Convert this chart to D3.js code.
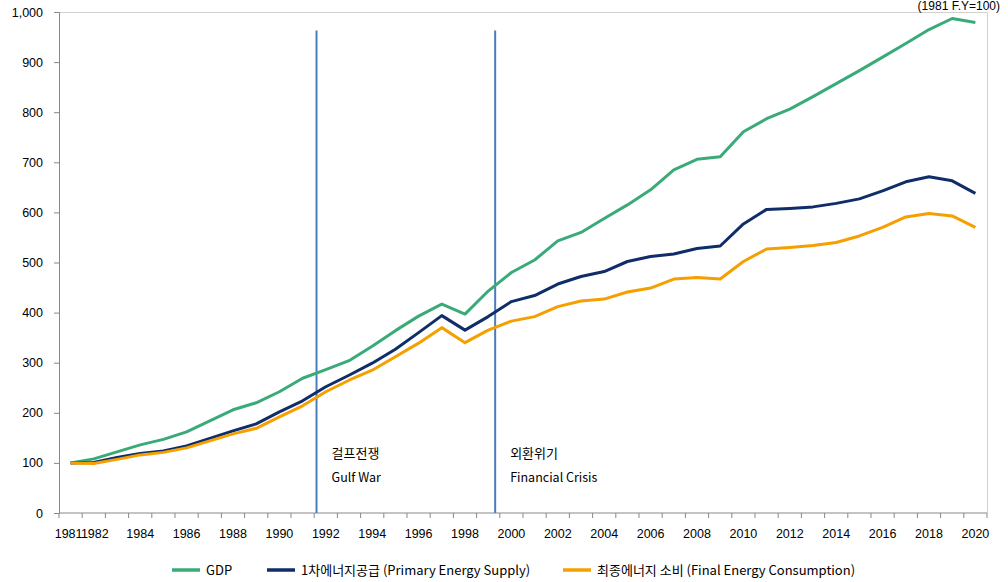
<!DOCTYPE html>
<html>
<head>
<meta charset="utf-8">
<script src="https://cdn.jsdelivr.net/npm/d3@7"></script>
<style>
  body { margin: 0; background: #fff; }
  text { font-family: "Liberation Sans", Arial, sans-serif; fill: #000; }
  .ko { font-family: "Noto Sans CJK KR", "Noto Sans", sans-serif; }
</style>
</head>
<body>
<script>
// data (1981 = 100)
var years = d3.range(1981, 2021);
var gdp = [100, 108, 122, 136, 147, 162, 184, 206, 220, 242,
    269, 286, 304, 333, 364, 393, 417, 397, 443, 480,
    505, 543, 560, 588, 615, 645, 685, 706, 711, 761,
    787, 806, 831, 857, 883, 910, 937, 965, 987, 979];
var primary = [100, 101, 111, 119, 124, 134, 149, 164, 178, 202,
    224, 252, 275, 299, 327, 360, 394, 365, 392, 422,
    434, 457, 472, 482, 502, 512, 517, 528, 533, 577,
    606, 608, 611, 618, 627, 643, 661, 671, 663, 638];
var finalCons = [100, 99, 107, 116, 121, 130, 144, 158, 169, 192,
    214, 242, 265, 285, 312, 339, 370, 340, 365, 383,
    392, 412, 423, 427, 441, 449, 467, 470, 467, 502,
    527, 530, 534, 540, 553, 570, 591, 598, 593, 570];
var tickYears = [1981, 1982, 1984, 1986, 1988, 1990, 1992, 1994, 1996, 1998,
    2000, 2002, 2004, 2006, 2008, 2010, 2012, 2014, 2016, 2018, 2020];
var yTicks = [0, 100, 200, 300, 400, 500, 600, 700, 800, 900, 1000];

var seriesNames = ["GDP", "1차에너지공급 (Primary Energy Supply)", "최종에너지 소비 (Final Energy Consumption)"];
var seriesColors = ["#3aab78", "#0f2d69", "#f5a000"];
var seriesValues = [gdp, primary, finalCons];

var eventYears = [1991.6, 1999.3];
var eventKo = ["걸프전쟁", "외환위기"];
var eventEn = ["Gulf War", "Financial Crisis"];

var W = 1008, H = 582;
var margin = { top: 12, right: 21, bottom: 69, left: 59 },
    width = W - margin.left - margin.right,
    height = H - margin.top - margin.bottom;

var svg = d3.select("body").append("svg")
    .attr("width", W)
    .attr("height", H);

var x = d3.scaleBand()
    .domain(years)
    .range([0, width])
    .padding(0);

var xc = function (yr) { return x(yr) + x.bandwidth() / 2; };

// fractional year -> x, for the event lines
var xLin = d3.scaleLinear()
    .domain([years[0], years[years.length - 1]])
    .range([xc(years[0]), xc(years[years.length - 1])]);

var y = d3.scaleLinear()
    .domain([0, 1000])
    .range([height, 0]);

var g = svg.append("g")
    .attr("transform", "translate(" + margin.left + "," + margin.top + ")");

// plot frame (top / right) in light gray
g.append("path")
    .attr("d", "M0,0.5H" + (width + 0.5) + "V" + height)
    .attr("fill", "none")
    .attr("stroke", "#d0d0d0")
    .attr("stroke-width", 1);

// y axis
var yAxis = d3.axisLeft(y)
    .tickValues(yTicks)
    .tickSize(5)
    .tickPadding(11)
    .tickFormat(d3.format(","));

var gY = g.append("g").call(yAxis);
gY.select(".domain").attr("stroke", "#888");
gY.selectAll(".tick line").attr("stroke", "#888");
gY.selectAll("text").style("font-size", "12.5px").attr("font-family", null);

// x axis: tick marks at category boundaries, labels at centers
var gX = g.append("g").attr("transform", "translate(0," + height + ")");
gX.append("line")
    .attr("x1", 0).attr("x2", width)
    .attr("stroke", "#888");
gX.selectAll(".xtick")
    .data(years.concat([null]))
    .enter().append("line")
    .attr("class", "xtick")
    .attr("x1", function (d) { return d === null ? width : x(d); })
    .attr("x2", function (d) { return d === null ? width : x(d); })
    .attr("y1", 0).attr("y2", 5)
    .attr("stroke", "#888");
gX.selectAll(".xlabel")
    .data(tickYears)
    .enter().append("text")
    .attr("class", "xlabel")
    .attr("x", function (d) { return xc(d) + (d === 1981 ? -2 : d === 1982 ? 1 : 0); })
    .attr("y", 25)
    .attr("text-anchor", "middle")
    .style("font-size", "12.5px")
    .text(function (d) { return d; });

// event lines
var ev = g.selectAll(".event")
    .data(eventYears)
    .enter().append("g")
    .attr("class", "event");

ev.append("line")
    .attr("x1", function (d) { return xLin(d); })
    .attr("x2", function (d) { return xLin(d); })
    .attr("y1", y(963))
    .attr("y2", height)
    .attr("stroke", "#4a7ebb")
    .attr("stroke-width", 2);

ev.append("text")
    .attr("class", "ko")
    .attr("x", function (d) { return xLin(d) + 15; })
    .attr("y", 446)
    .style("font-size", "13px")
    .text(function (d, i) { return eventKo[i]; });

ev.append("text")
    .attr("class", "ko")
    .attr("x", function (d) { return xLin(d) + 15; })
    .attr("y", 470)
    .style("font-size", "12.5px")
    .text(function (d, i) { return eventEn[i]; });

// series lines
var line = d3.line()
    .x(function (d, i) { return xc(years[i]); })
    .y(function (d) { return y(d); });

g.selectAll(".series")
    .data(seriesValues)
    .enter().append("path")
    .attr("class", "series")
    .attr("d", line)
    .attr("fill", "none")
    .attr("stroke", function (d, i) { return seriesColors[i]; })
    .attr("stroke-width", 3)
    .attr("stroke-linejoin", "round");

// unit label top right
svg.append("text")
    .attr("x", 1000)
    .attr("y", 10)
    .attr("text-anchor", "end")
    .style("font-size", "12px")
    .text("(1981 F.Y=100)");

// legend
var legendX = [172, 267, 563];
var legend = svg.selectAll(".legend")
    .data(seriesNames)
    .enter().append("g")
    .attr("class", "legend")
    .attr("transform", function (d, i) { return "translate(" + legendX[i] + ",570)"; });

legend.append("line")
    .attr("x1", 0).attr("x2", 28)
    .attr("stroke", function (d, i) { return seriesColors[i]; })
    .attr("stroke-width", 3.5);

legend.append("text")
    .attr("class", "ko")
    .attr("x", 34)
    .attr("y", 4.5)
    .style("font-size", "13px")
    .text(function (d) { return d; });
</script>
</body>
</html>
